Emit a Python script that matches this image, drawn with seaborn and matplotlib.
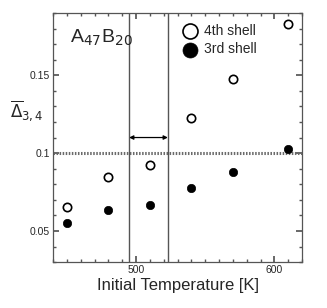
import numpy as np
import pandas as pd
import matplotlib
matplotlib.use("Agg")
import matplotlib.pyplot as plt
from matplotlib.ticker import MultipleLocator
import seaborn as sns

# data
temps = [450, 480, 510, 540, 570, 610]
shell4 = [0.0655, 0.0848, 0.0926, 0.1223, 0.1474, 0.1828]
shell3 = [0.0548, 0.0634, 0.0666, 0.0777, 0.0881, 0.1025]
vlines = [495, 523]
hline = 0.1
arrow_y = 0.11

sns.set_theme(style="ticks")
plt.rcParams['font.family'] = ['Liberation Sans', 'DejaVu Sans']

fig = plt.figure(figsize=(3.27, 3.08), dpi=100)
ax = fig.add_axes([0.162, 0.149, 0.762, 0.809])

sns.scatterplot(x=temps, y=shell4, ax=ax, s=36, facecolor='white',
                edgecolor='black', linewidth=1.2, label='4th shell', zorder=3)
sns.scatterplot(x=temps, y=shell3, ax=ax, s=36, color='black',
                edgecolor='black', linewidth=0.5, label='3rd shell', zorder=3)

ax.axhline(hline, color='#6a6a6a', lw=2.2, ls=(0, (0.5, 0.5)), zorder=1)
for v in vlines:
    ax.axvline(v, color='#555555', lw=1.0, zorder=1)
ax.annotate('', xy=(vlines[0], arrow_y), xytext=(vlines[1], arrow_y),
            arrowprops=dict(arrowstyle='<|-|>', color='black', lw=0.9,
                            mutation_scale=6, shrinkA=0, shrinkB=0))

ax.set_xlim(440, 620)
ax.set_ylim(0.03, 0.19)
ax.set_xticks([500, 600])
ax.set_yticks([0.05, 0.1, 0.15])
ax.set_yticklabels(['0.05', '0.1', '0.15'])
ax.xaxis.set_minor_locator(MultipleLocator(10))
ax.yaxis.set_minor_locator(MultipleLocator(0.01))
ax.tick_params(which='both', direction='in', top=True, right=True,
               color='#555555', labelsize=7.5, pad=2)
ax.tick_params(which='major', length=4)
ax.tick_params(which='minor', length=2.5)
for sp in ax.spines.values():
    sp.set_color('#555555')
    sp.set_linewidth(0.9)

ax.set_xlabel('Initial Temperature [K]', fontsize=12, labelpad=2)
ax.set_ylabel('')
fig.text(0.03, 0.64, r'$\overline{\Delta}_{3,4}$', fontsize=12, ha='left', va='center')
ax.text(0.07, 0.9, r'A$_{47}$B$_{20}$', transform=ax.transAxes,
        fontsize=14, ha='left', va='center')

ax.legend(loc='upper left', bbox_to_anchor=(0.45, 1.0), frameon=False,
          markerscale=1.8, fontsize=10, handletextpad=0.0,
          labelspacing=0.3, borderpad=0.3)

fig.savefig('out.png', dpi=100)
